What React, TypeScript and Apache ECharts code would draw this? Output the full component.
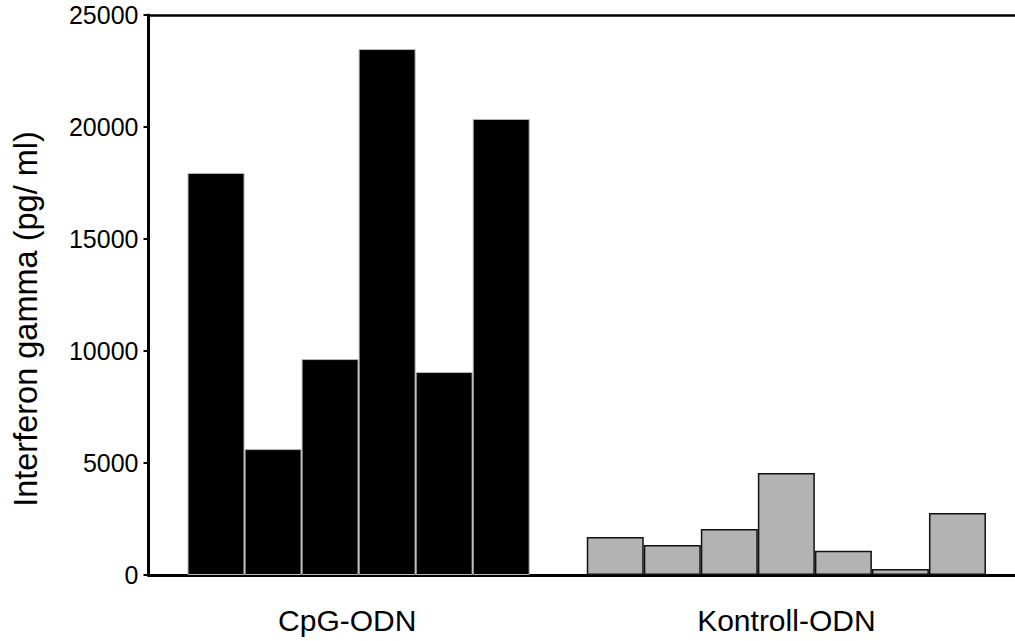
import React, { useEffect, useRef } from "react";
import * as echarts from "echarts";

const groupLabels = ["CpG-ODN", "Kontroll-ODN"];
const cpgValues = [17950, 5620, 9640, 23480, 9060, 20360];
const kontrollValues = [1700, 1340, 2050, 4550, 1080, 270, 2770];
const yTicks = [0, 5000, 10000, 15000, 20000, 25000];
const yTitle = "Interferon gamma (pg/ ml)";

const FONT = "'Liberation Sans', Arial, Helvetica, sans-serif";

export default function App() {
  const ref = useRef<HTMLDivElement>(null);
  useEffect(() => {
    if (!ref.current) return;
    const chart = echarts.init(ref.current, undefined, { renderer: "svg" });
    const kontrollStart = cpgValues.length + 1;
    const data: any[] = [];
    cpgValues.forEach((v, i) =>
      data.push({
        value: [i, v],
        itemStyle: { color: "#000000", borderColor: "#b8b8b8", borderWidth: 1 },
      })
    );
    kontrollValues.forEach((v, i) =>
      data.push({
        value: [kontrollStart + i, v],
        itemStyle: { color: "#b3b3b3", borderColor: "#111111", borderWidth: 1.5 },
      })
    );
    const lastSlot = kontrollStart + kontrollValues.length - 1;
    const groupCenters = [2.3, (kontrollStart + lastSlot) / 2];
    const xMin = -1.184;
    const xMax = 14.009;
    chart.setOption({
      animation: false,
      grid: { left: 148.5, right: 0, top: 15, bottom: 66, containLabel: false },
      graphic: [
        {
          type: "text",
          x: 26,
          y: 319,
          rotation: Math.PI / 2,
          style: {
            text: yTitle,
            fontFamily: FONT,
            fontSize: 32.5,
            fill: "#000",
            textAlign: "center",
            textVerticalAlign: "middle",
          },
        },
      ],
      xAxis: [
        {
          type: "value",
          min: xMin,
          max: xMax,
          position: "bottom",
          axisLine: { show: true, onZero: false, lineStyle: { color: "#000", width: 3 } },
          axisTick: { show: false },
          splitLine: { show: false },
          axisLabel: {
            show: true,
            customValues: groupCenters,
            formatter: (v: number) => (v < kontrollStart - 0.5 ? groupLabels[0] : groupLabels[1]),
            fontFamily: FONT,
            fontSize: 30,
            color: "#000",
            margin: 30,
          },
        },
        {
          type: "value",
          min: xMin,
          max: xMax,
          position: "top",
          axisLine: { show: true, onZero: false, lineStyle: { color: "#000", width: 2.5 } },
          axisTick: { show: false },
          axisLabel: { show: false },
          splitLine: { show: false },
        },
      ],
      yAxis: {
        type: "value",
        min: yTicks[0],
        max: yTicks[yTicks.length - 1],
        interval: 5000,
        axisLine: { show: true, onZero: false, lineStyle: { color: "#000", width: 3 } },
        axisTick: { show: true, length: 5, lineStyle: { color: "#000", width: 2 } },
        splitLine: { show: false },
        axisLabel: {
          fontFamily: FONT,
          fontSize: 25,
          color: "#000",
          margin: 10,
          formatter: (v: number) => String(v),
        },
      },
      series: [
        {
          type: "bar",
          xAxisIndex: 0,
          barWidth: 57,
          data,
        },
      ],
    });
    return () => chart.dispose();
  }, []);
  return (
    <div
      ref={ref}
      style={{ position: "fixed", left: 0, top: 0, width: 1015, height: 641, background: "#fff" }}
    />
  );
}
